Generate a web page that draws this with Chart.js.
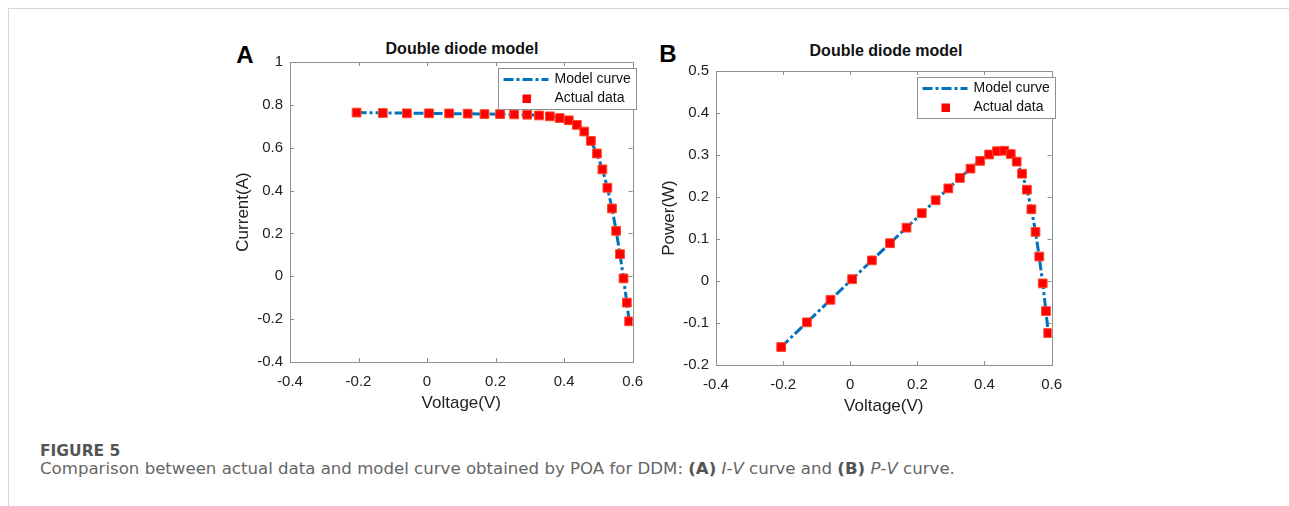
<!DOCTYPE html>
<html><head><meta charset="utf-8">
<script src="https://cdn.jsdelivr.net/npm/chart.js@4.4.1/dist/chart.umd.min.js"></script>
<style>
html,body{margin:0;padding:0;background:#fff}
body{width:1289px;height:506px;overflow:hidden;position:relative;font-family:"Liberation Sans",Arial,sans-serif}
.card{position:absolute;left:8px;top:8px;width:1300px;height:520px;border-left:1px solid #d6d6d6;border-top:1px solid #d6d6d6}
.wrap{position:absolute}
.ttl{position:absolute;font:bold 16px "Liberation Sans",Arial,sans-serif;color:#111;white-space:nowrap;transform:translate(-50%,-50%)}
.let{position:absolute;font:bold 24px "Liberation Sans",Arial,sans-serif;color:#000;transform:translate(-50%,-50%)}
.fig{position:absolute;left:40px;top:444px;font:bold 15.5px/15.5px "DejaVu Sans",sans-serif;color:#555;white-space:nowrap}
.cap{position:absolute;left:40px;top:461px;font:16.6px/16.6px "DejaVu Sans",sans-serif;color:#666;white-space:nowrap}
.cap b{color:#555}
</style></head>
<body>
<div class="card"></div>
<div class="let" style="left:245px;top:55px">A</div>
<div class="let" style="left:668px;top:54px">B</div>
<div class="ttl" style="left:462px;top:49px">Double diode model</div>
<div class="ttl" style="left:886px;top:51px">Double diode model</div>
<div class="wrap" style="left:229px;top:30px"><canvas id="cA" width="425" height="385"></canvas></div>
<div class="wrap" style="left:655px;top:30px"><canvas id="cB" width="418" height="388"></canvas></div>
<div class="fig">FIGURE 5</div>
<div class="cap">Comparison between actual data and model curve obtained by POA for DDM: <b>(A)</b> <i>I</i>-<i>V</i> curve and <b>(B)</b> <i>P</i>-<i>V</i> curve.</div>
<script>
// Measured voltages (V)
const voltage = [-0.2057,-0.1291,-0.0588,0.0057,0.0646,0.1185,0.1678,0.2132,0.2545,0.2924,0.3269,0.3585,0.3873,0.4137,0.4373,0.4590,0.4784,0.4960,0.5119,0.5265,0.5398,0.5521,0.5633,0.5736,0.5833,0.5900];
// Actual current data (A)
const currentActual = [0.7640,0.7620,0.7605,0.7605,0.7600,0.7590,0.7570,0.7570,0.7555,0.7540,0.7505,0.7465,0.7385,0.7280,0.7065,0.6755,0.6320,0.5730,0.4990,0.4130,0.3165,0.2120,0.1035,-0.0100,-0.1230,-0.2100];
// Model curve current (A)
const currentModel = [0.7640,0.7627,0.7614,0.7602,0.7591,0.7581,0.7571,0.7562,0.7551,0.7537,0.7514,0.7474,0.7401,0.7274,0.7070,0.6753,0.6308,0.5719,0.4996,0.4136,0.3175,0.2121,0.1022,-0.0092,-0.1244,-0.2092];
// Actual power data (W)
const powerActual = [-0.1572,-0.0984,-0.0447,0.0043,0.0491,0.0899,0.1270,0.1614,0.1923,0.2205,0.2453,0.2676,0.2860,0.3012,0.3090,0.3101,0.3023,0.2842,0.2554,0.2174,0.1708,0.1170,0.0583,-0.0057,-0.0717,-0.1239];
// Model power (W)
const powerModel = [-0.1572,-0.0985,-0.0448,0.0043,0.0490,0.0898,0.1270,0.1612,0.1922,0.2204,0.2456,0.2679,0.2866,0.3009,0.3092,0.3100,0.3018,0.2837,0.2557,0.2178,0.1714,0.1171,0.0576,-0.0053,-0.0726,-0.1234];
const xTicks = [-0.4,-0.2,0,0.2,0.4,0.6];
const yTicksA = [-0.4,-0.2,0,0.2,0.4,0.6,0.8,1];
const yTicksB = [-0.2,-0.1,0,0.1,0.2,0.3,0.4,0.5];
const legendLabels = ['Model curve','Actual data'];

const BLUE = '#0072BD', RED = '#ff0000';
const fmt = v => String(Number(Number(v).toFixed(2)));
const pts = (xs, ys) => xs.map((x,i)=>({x, y: ys[i]}));

const framePlugin = {
  id: 'frame',
  beforeDatasetsDraw(chart) {
    const {ctx, chartArea: a, scales} = chart;
    ctx.save();
    ctx.strokeStyle = '#8f8f8f'; ctx.lineWidth = 1;
    ctx.strokeRect(Math.round(a.left)+0.5, Math.round(a.top)+0.5, Math.round(a.right-a.left), Math.round(a.bottom-a.top));
    ctx.beginPath();
    const tl = 4;
    scales.x.ticks.forEach(t => {
      const px = Math.round(scales.x.getPixelForValue(t.value))+0.5;
      ctx.moveTo(px, a.bottom); ctx.lineTo(px, a.bottom - tl);
      ctx.moveTo(px, a.top); ctx.lineTo(px, a.top + tl);
    });
    scales.y.ticks.forEach(t => {
      const py = Math.round(scales.y.getPixelForValue(t.value))+0.5;
      ctx.moveTo(a.left, py); ctx.lineTo(a.left + tl, py);
      ctx.moveTo(a.right, py); ctx.lineTo(a.right - tl, py);
    });
    ctx.stroke();
    ctx.restore();
  },
  afterDraw(chart) {
    const {ctx, chartArea: a} = chart;
    const bw = 138, bh = 41;
    const bx = Math.round(a.right) - 135 + 0.5, by = Math.round(a.top) + 6 + 0.5;
    ctx.save();
    ctx.fillStyle = '#fff'; ctx.fillRect(bx, by, bw, bh);
    ctx.strokeStyle = '#8f8f8f'; ctx.lineWidth = 1; ctx.strokeRect(bx, by, bw, bh);
    ctx.strokeStyle = BLUE; ctx.lineWidth = 3; ctx.setLineDash([10,3,3,3]);
    ctx.beginPath(); ctx.moveTo(bx+5, by+11); ctx.lineTo(bx+50, by+11); ctx.stroke();
    ctx.setLineDash([]);
    ctx.fillStyle = RED; ctx.fillRect(bx+24, by+26, 8.5, 8.5);
    ctx.fillStyle = '#111'; ctx.font = '14px "Liberation Sans", Arial, sans-serif';
    ctx.textBaseline = 'middle'; ctx.textAlign = 'left';
    ctx.fillText(legendLabels[0], bx+56, by+11);
    ctx.fillText(legendLabels[1], bx+56, by+30);
    ctx.restore();
  }
};

function makeChart(id, yTicks, yTitle, actual, model, padTop) {
  const ctx = document.getElementById(id);
  return new Chart(ctx, {
    type: 'scatter',
    data: {
      datasets: [
        { label: legendLabels[1], data: pts(voltage, actual), showLine: false, order: 0,
          pointStyle: 'rect', pointRadius: 6.2, pointHoverRadius: 6.2,
          backgroundColor: RED, borderColor: '#ff4a2a', borderWidth: 1 },
        { label: legendLabels[0], data: pts(voltage, model), showLine: true, order: 1,
          borderColor: BLUE, borderWidth: 3, borderDash: [10,3,3,3], pointRadius: 0, fill: false, tension: 0 }
      ]
    },
    options: {
      responsive: false, animation: false, devicePixelRatio: 1,
      layout: { padding: { top: padTop, right: 15, left: 0, bottom: 0 } },
      plugins: { legend: { display: false }, tooltip: { enabled: false }, title: { display: false } },
      scales: {
        x: {
          type: 'linear', min: xTicks[0], max: xTicks[xTicks.length-1],
          afterBuildTicks: s => { s.ticks = xTicks.map(v => ({value: v})); },
          ticks: { callback: fmt, font: { size: 15, family: '"Liberation Sans", Arial, sans-serif' }, color: '#222', padding: 11, maxRotation: 0, autoSkip: false },
          grid: { display: false, drawTicks: false }, border: { display: false },
          title: { display: true, text: 'Voltage(V)', font: { size: 17, family: '"Liberation Sans", Arial, sans-serif' }, color: '#222', padding: { top: 0, bottom: 1 } },
          afterFit: s => { s.height = 53; }
        },
        y: {
          type: 'linear', min: yTicks[0], max: yTicks[yTicks.length-1],
          afterBuildTicks: s => { s.ticks = yTicks.map(v => ({value: v})); },
          ticks: { callback: fmt, font: { size: 15, family: '"Liberation Sans", Arial, sans-serif' }, color: '#222', padding: 7, autoSkip: false },
          grid: { display: false, drawTicks: false }, border: { display: false },
          title: { display: true, text: yTitle, font: { size: 17, family: '"Liberation Sans", Arial, sans-serif' }, color: '#222', padding: { top: 4, bottom: 0 } },
          afterFit: s => { s.width = 61; }
        }
      }
    },
    plugins: [framePlugin]
  });
}

makeChart('cA', yTicksA, 'Current(A)', currentActual, currentModel, 32);
makeChart('cB', yTicksB, 'Power(W)', powerActual, powerModel, 41);
</script>
</body></html>
